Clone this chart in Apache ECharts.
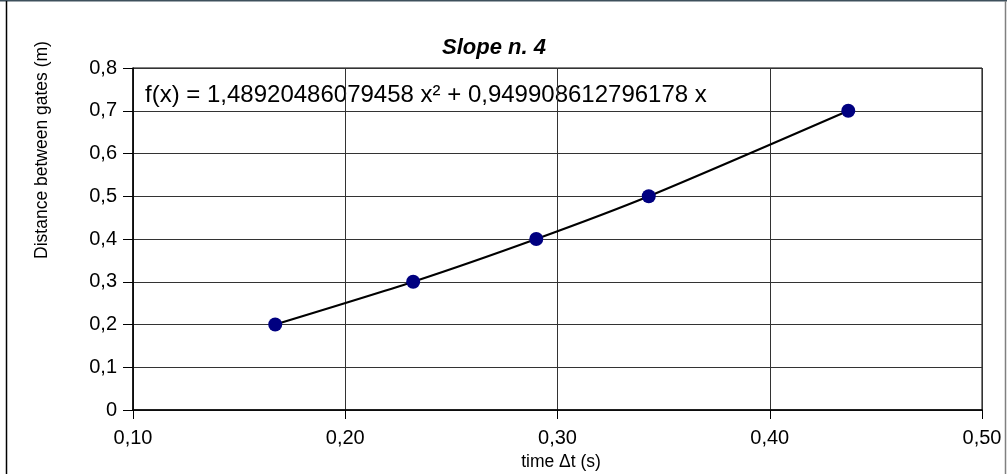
<!DOCTYPE html>
<html>
<head>
<meta charset="utf-8">
<script src="https://cdn.jsdelivr.net/npm/echarts@6/dist/echarts.min.js"></script>
<style>
  html, body { margin: 0; padding: 0; background: #fff; }
  #chart { width: 1007px; height: 474px; }
</style>
</head>
<body>
<div id="chart"></div>
<script>
// measured points (time in s, distance in m)
var timeVals = [0.167, 0.232, 0.290, 0.343, 0.437];
var distVals = [0.2, 0.3, 0.4, 0.5, 0.7];
var chartTitle = "Slope n. 4";
var fitText = "f(x) = 1,48920486079458 x\u00b2 + 0,949908612796178 x";
var xName = "time \u0394t (s)";
var yName = "Distance between gates (m)";

var FONT = "Liberation Sans, Arial, sans-serif";

function commaNum(v, d) {
    if (v === 0) return "0";
    return v.toFixed(d).replace(".", ",");
}

var points = [];
for (var i = 0; i < timeVals.length; i++) {
    points.push([timeVals[i], distVals[i]]);
}

var myChart = echarts.init(document.getElementById("chart"), null, { renderer: "canvas" });
var option = {
    animation: false,
    backgroundColor: "#fff",
    textStyle: { fontFamily: FONT },
    title: {
        text: chartTitle,
        left: 437,
        top: 32,
        textStyle: { fontFamily: FONT, fontSize: 22, fontWeight: "bold", fontStyle: "italic", color: "#000" }
    },
    grid: {
        left: 133, right: 25, top: 68, bottom: 64,
        show: true, borderColor: "#000", borderWidth: 1,
        containLabel: false
    },
    xAxis: {
        type: "value",
        min: 0.1, max: 0.5, interval: 0.1,
        axisLine: { show: true, lineStyle: { color: "#000", width: 1.5 } },
        axisTick: { show: true, inside: false, length: 9, lineStyle: { color: "#000" } },
        axisLabel: { margin: 18, fontSize: 20, color: "#000", fontFamily: FONT,
            formatter: function (v) { return commaNum(v, 2); } },
        splitLine: { show: true, lineStyle: { color: "#333", width: 1 } }
    },
    yAxis: {
        type: "value",
        min: 0, max: 0.8, interval: 0.1,
        axisLine: { show: true, lineStyle: { color: "#000", width: 1.5 } },
        axisTick: { show: true, inside: false, length: 10, lineStyle: { color: "#000" } },
        axisLabel: { margin: 16, fontSize: 20, color: "#000", fontFamily: FONT,
            formatter: function (v) { return commaNum(v, 1); } },
        splitLine: { show: true, lineStyle: { color: "#333", width: 1 } }
    },
    graphic: [
        // outer frame pieces
        { type: "line", shape: { x1: 0, y1: 0.5, x2: 1007, y2: 0.5 }, style: { stroke: "#3e505c", lineWidth: 2 }, silent: true },
        { type: "line", shape: { x1: 6.5, y1: 1, x2: 6.5, y2: 474 }, style: { stroke: "#000", lineWidth: 1.5 }, silent: true },
        { type: "line", shape: { x1: 1005.5, y1: 1, x2: 1005.5, y2: 474 }, style: { stroke: "#808080", lineWidth: 1.5 }, silent: true },
        {
            type: "text", left: 145, top: 83,
            style: { text: fitText, fontFamily: FONT, fontSize: 24, fill: "#000" }
        },
        {
            type: "text", x: 42, y: 150, rotation: Math.PI / 2,
            style: { text: yName, fontFamily: FONT, fontSize: 17.5, fill: "#000", align: "center", verticalAlign: "middle" }
        },
        {
            type: "text", x: 561, y: 462,
            style: { text: xName, fontFamily: FONT, fontSize: 17.5, fill: "#000", align: "center", verticalAlign: "middle" }
        }
    ],
    series: [
        {
            name: "trend",
            type: "line",
            data: points,
            smooth: 0.25,
            symbol: "none",
            lineStyle: { color: "#000", width: 2 },
            z: 2
        },
        {
            name: "data",
            type: "scatter",
            data: points,
            symbol: "circle",
            symbolSize: 14,
            itemStyle: { color: "#000080", opacity: 1 },
            z: 3
        }
    ]
};
myChart.setOption(option);
</script>
</body>
</html>
